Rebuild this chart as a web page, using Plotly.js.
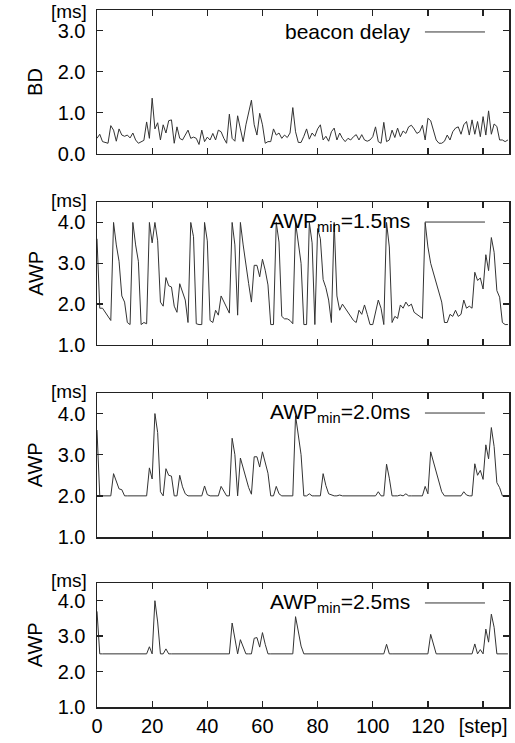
<!DOCTYPE html>
<html><head><meta charset="utf-8">
<script src="https://cdn.plot.ly/plotly-3.0.1.min.js"></script>
<style>html,body{margin:0;padding:0;background:#fff}#c{width:515px;height:743px}</style>
</head><body><div id="c"></div>
<script>
const bd = [0.37,0.47,0.29,0.27,0.25,0.68,0.57,0.30,0.60,0.45,
0.42,0.45,0.38,0.50,0.33,0.25,0.28,0.32,0.77,0.37,
1.35,0.60,0.75,0.33,0.70,0.50,0.80,0.82,0.25,0.65,
0.37,0.33,0.45,0.57,0.37,0.40,0.37,0.22,0.57,0.29,
0.40,0.33,0.49,0.33,0.57,0.53,0.37,0.25,0.96,0.37,
0.30,0.92,0.60,0.29,0.70,0.98,1.30,0.70,0.45,0.98,
0.70,0.25,0.29,0.29,0.60,0.45,0.50,0.37,0.45,0.39,
0.50,1.12,0.53,0.27,0.27,0.42,0.60,0.35,0.50,0.42,
0.60,0.70,0.33,0.42,0.30,0.53,0.62,0.33,0.50,0.37,
0.29,0.37,0.33,0.41,0.46,0.33,0.46,0.33,0.30,0.33,
0.41,0.65,0.29,0.25,0.76,0.29,0.33,0.57,0.39,0.62,
0.41,0.55,0.49,0.65,0.69,0.60,0.49,0.53,0.69,0.33,
0.86,0.80,0.53,0.33,0.25,0.25,0.30,0.45,0.33,0.53,
0.62,0.65,0.47,0.70,0.78,0.45,0.82,0.47,0.78,0.41,
0.90,0.45,1.04,0.47,0.72,0.66,0.33,0.33,0.29,0.33];

const awp15 = [3.6,1.9,1.9,1.8,1.7,1.6,4.0,3.45,3.05,2.2,
2.05,1.55,1.5,4.0,3.45,3.05,1.5,1.55,1.52,4.0,
3.5,4.0,3.55,2.05,1.95,2.65,2.45,2.42,1.95,1.8,
2.5,2.3,2.1,1.55,4.0,3.65,1.52,1.5,1.5,4.0,
3.55,1.6,1.55,1.85,1.73,2.2,2.07,1.95,1.78,4.0,
3.45,1.73,4.0,3.45,3.03,2.5,2.05,2.95,2.95,2.67,
3.1,2.83,2.47,1.5,1.5,4.0,3.52,1.7,1.64,1.64,
1.6,1.52,4.0,3.56,3.0,1.5,1.5,4.0,3.5,1.5,
3.85,3.6,2.6,2.4,2.1,1.55,4.0,2.2,1.85,2.0,
1.9,1.8,1.7,1.6,1.55,1.85,1.75,1.98,1.75,1.5,
1.5,1.8,2.1,1.9,1.5,4.0,3.4,1.55,1.7,1.65,
1.98,1.9,2.05,1.95,2.0,1.8,1.75,1.7,1.65,4.0,
3.4,3.0,2.75,2.55,2.3,2.05,1.55,1.55,1.75,1.7,
1.85,1.7,1.75,2.1,1.9,1.95,1.9,2.78,2.58,2.64,
2.37,3.21,2.82,3.63,3.27,2.33,2.17,1.55,1.5,1.5];

const awp20 = [3.6,2.0,2.0,2.0,2.0,2.0,2.54,2.35,2.17,2.15,
2.0,2.0,2.0,2.0,2.0,2.0,2.0,2.0,2.0,2.68,
2.41,4.0,3.54,2.1,2.0,2.66,2.5,2.48,2.0,2.0,
2.5,2.22,2.05,2.0,2.0,2.0,2.0,2.0,2.0,2.24,
2.03,2.0,2.0,2.0,2.0,2.23,2.1,2.0,2.0,3.4,
3.0,2.0,2.92,2.68,2.45,2.2,2.04,2.95,2.95,2.7,
3.07,2.83,2.55,2.0,2.0,2.23,2.05,2.0,2.0,2.0,
2.0,2.0,3.95,3.5,3.0,2.0,2.0,2.05,2.0,2.0,
2.0,2.0,2.54,2.25,2.05,2.02,2.0,2.0,2.02,2.0,
2.0,2.0,2.0,2.0,2.0,2.0,2.0,2.0,2.0,2.0,
2.0,2.0,2.1,2.0,2.0,2.77,2.43,2.0,2.0,2.0,
2.02,2.0,2.05,2.0,2.0,2.0,2.0,2.0,2.0,2.23,
2.05,3.07,2.83,2.6,2.35,2.1,2.0,2.0,2.0,2.0,
2.0,2.0,2.0,2.1,2.02,2.0,2.0,2.78,2.5,2.62,
2.4,3.24,2.9,3.66,3.2,2.32,2.2,2.0,2.0,2.0];

const awp25 = [3.7,2.5,2.5,2.5,2.5,2.5,2.52,2.5,2.5,2.5,
2.5,2.5,2.5,2.5,2.5,2.5,2.5,2.5,2.5,2.7,
2.5,4.0,3.4,2.5,2.5,2.64,2.5,2.5,2.5,2.5,
2.5,2.5,2.5,2.5,2.5,2.5,2.5,2.5,2.5,2.5,
2.5,2.5,2.5,2.5,2.5,2.5,2.5,2.5,2.5,3.37,
2.96,2.5,2.9,2.67,2.5,2.5,2.5,2.94,2.96,2.69,
3.1,2.77,2.5,2.5,2.5,2.5,2.5,2.5,2.5,2.5,
2.5,2.5,3.55,3.15,2.72,2.5,2.5,2.5,2.5,2.5,
2.5,2.5,2.51,2.5,2.5,2.5,2.5,2.5,2.5,2.5,
2.5,2.5,2.5,2.5,2.5,2.5,2.5,2.5,2.5,2.5,
2.5,2.5,2.5,2.5,2.5,2.77,2.5,2.5,2.5,2.5,
2.5,2.5,2.5,2.5,2.5,2.5,2.5,2.5,2.5,2.5,
2.5,3.05,2.77,2.5,2.5,2.5,2.5,2.5,2.5,2.5,
2.5,2.5,2.5,2.5,2.5,2.5,2.5,2.78,2.5,2.62,
2.5,3.2,2.83,3.62,3.25,2.5,2.5,2.5,2.5,2.5];

const xTickVals = [0,20,40,60,80,100,120,140];
const xTickText = ["0","20","40","60","80","100","120","[step]"];
const legendNames = ["beacon delay","AWP<sub>min</sub>=1.5ms","AWP<sub>min</sub>=2.0ms","AWP<sub>min</sub>=2.5ms"];
const yTitles = ["BD","AWP","AWP","AWP"];
const unitLabel = "[ms]";
const yTicks1 = [0,1,2,3];
const yTicks2 = [1,2,3,4];

const steps = bd.map((_, i) => i);
const series = [bd, awp15, awp20, awp25];
const FONT = "Liberation Sans, Arial, sans-serif";
const lineColor = "#333";

const traces = series.map((ys, i) => ({
  type: "scatter", mode: "lines", x: steps, y: ys,
  xaxis: i === 0 ? "x" : "x" + (i + 1),
  yaxis: i === 0 ? "y" : "y" + (i + 1),
  line: {color: lineColor, width: 1}, showlegend: false, hoverinfo: "skip"
}));

const domains = [[0.7941, 1.0],[0.5194, 0.7245],[0.2439, 0.4505],[0, 0.1779]];
const yRanges = [[0, 3.5],[1, 4.5],[1, 4.5],[1, 4.5]];
const legY = [0.847, 0.86, 0.861, 0.839];
const unitShift = [-1, 2, 2, 3];

const layout = {
  width: 515, height: 743,
  margin: {l: 97, r: 6, t: 10, b: 36},
  paper_bgcolor: "#fff", plot_bgcolor: "#fff",
  font: {family: FONT, size: 20, color: "#000"},
  showlegend: false,
  annotations: [], shapes: []
};

for (let i = 0; i < 4; i++) {
  const xk = i === 0 ? "xaxis" : "xaxis" + (i + 1);
  const yk = i === 0 ? "yaxis" : "yaxis" + (i + 1);
  const yid = i === 0 ? "y" : "y" + (i + 1);
  const xid = i === 0 ? "x" : "x" + (i + 1);
  layout[xk] = {
    range: [0, 149.4], anchor: yid, domain: [0, 1],
    tickvals: xTickVals, ticktext: xTickText,
    showticklabels: i === 3,
    ticks: "inside", ticklen: 6, tickcolor: "#222", tickwidth: 1.3,
    showline: true, linecolor: "#222", linewidth: 1.5, mirror: "ticks",
    showgrid: false, zeroline: false, fixedrange: true,
    tickfont: {family: FONT, size: 20, color: "#000"}
  };
  const yt = i === 0 ? yTicks1 : yTicks2;
  layout[yk] = {
    range: yRanges[i], anchor: xid, domain: domains[i],
    tickvals: yt, ticktext: yt.map(v => v.toFixed(1)),
    ticks: "inside", ticklen: 6, tickcolor: "#222", tickwidth: 1.3,
    showline: true, linecolor: "#222", linewidth: 1.5, mirror: "ticks",
    showgrid: false, zeroline: false, fixedrange: true,
    ticklabelstandoff: 6,
    tickfont: {family: FONT, size: 20, color: "#000"}
  };
  layout.annotations.push({
    text: unitLabel, xref: "paper", x: -0.117, xanchor: "left",
    yref: yid + " domain", y: 1.0, yanchor: "middle", yshift: unitShift[i],
    showarrow: false, font: {family: FONT, size: 19, color: "#000"}
  });
  layout.annotations.push({
    text: yTitles[i], xref: "paper", x: -0.150, xanchor: "center",
    yref: yid + " domain", y: 0.5, yanchor: "middle", textangle: -90,
    showarrow: false, font: {family: FONT, size: 20, color: "#000"}
  });
  layout.annotations.push({
    text: legendNames[i], xref: "paper", x: 0.7646, xanchor: "right",
    yref: yid + " domain", y: legY[i], yanchor: "middle",
    showarrow: false, font: {family: FONT, size: 21, color: "#000"}
  });
  layout.shapes.push({
    type: "line", xref: "paper", x0: 0.796, x1: 0.9417,
    yref: yid + " domain", y0: legY[i], y1: legY[i],
    line: {color: lineColor, width: 1}
  });
}

Plotly.newPlot("c", traces, layout, {staticPlot: true, displayModeBar: false});
</script></body></html>
